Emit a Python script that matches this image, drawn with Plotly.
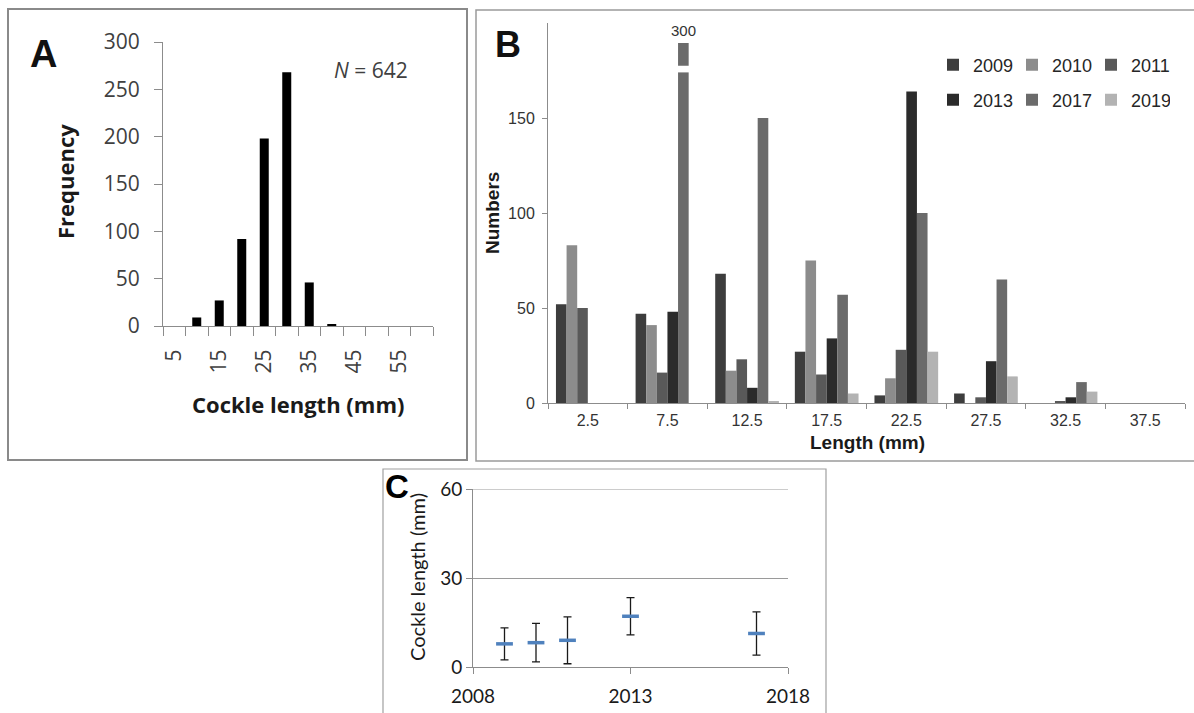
import plotly.graph_objects as go

W, H = 1194, 713
def px(x): return x / W
def py(y): return 1 - y / H

# ---------------- data ----------------
# Panel A: length-frequency of cockles
a_lengths = [5, 10, 15, 20, 25, 30, 35, 40, 45, 50, 55, 60]
a_freq = [0, 9, 27, 92, 198, 268, 46, 2, 0, 0, 0, 0]
a_ticklabels = [5, 15, 25, 35, 45, 55]
a_n = 642

# Panel B: numbers per length class and year
b_bins = ["2.5", "7.5", "12.5", "17.5", "22.5", "27.5", "32.5", "37.5"]
b_years = ["2009", "2010", "2011", "2013", "2017", "2019"]
b_2009 = [52, 47, 68, 27, 4, 5, 0, 0]
b_2010 = [83, 41, 17, 75, 13, 0, 0, 0]
b_2011 = [50, 16, 23, 15, 28, 3, 1, 0]
b_2013 = [0, 48, 8, 34, 164, 22, 3, 0]
b_2017 = [0, 300, 150, 57, 100, 65, 11, 0]
b_2019 = [0, 0, 1, 5, 27, 14, 6, 0]
b_series = [b_2009, b_2010, b_2011, b_2013, b_2017, b_2019]
b_colors = ["#3d3d3d", "#8c8c8c", "#595959", "#2b2b2b", "#6b6b6b", "#b3b3b3"]
B_CAP = 189.5          # visual cap for the broken bar
B_BREAK = (174, 177.5)  # white break drawn across capped bar

# Panel C: mean cockle length +/- SD
c_years = [2009, 2010, 2011, 2013, 2017]
c_mean = [7.8, 8.2, 9.0, 17.1, 11.3]
c_sd = [5.4, 6.5, 7.9, 6.3, 7.3]
c_yticks = [0, 30, 60]

# ---------------- figure ----------------
fig = go.Figure()

# Panel A
fig.add_trace(go.Bar(x=a_lengths, y=a_freq, width=2, marker_color="#000000",
                     xaxis="x", yaxis="y", showlegend=False))

# Panel B
for name, vals, col in zip(b_years, b_series, b_colors):
    fig.add_trace(go.Bar(x=b_bins, y=[min(v, B_CAP) for v in vals], name=name,
                         marker=dict(color=col, line=dict(width=0)),
                         xaxis="x2", yaxis="y2",
                         legend="legend" if b_years.index(name) < 3 else "legend2"))

# Panel C
fig.add_trace(go.Scatter(x=c_years, y=c_mean, mode="markers",
                         marker=dict(symbol="line-ew", size=12, color="#4f81bd",
                                     line=dict(width=3.5, color="#4f81bd")),
                         error_y=dict(type="data", array=c_sd, visible=True,
                                      color="#1a1a1a", thickness=1.3, width=4),
                         xaxis="x3", yaxis="y3", showlegend=False))

axis_gray = "#8c8c8c"
grid_gray = "#9a9a9a"
fontA = "Open Sans"
fontB = "Liberation Sans"
fontC = "Lato"

a_bounds = [v - 2.5 for v in a_lengths] + [a_lengths[-1] + 2.5]

legend_common = dict(orientation="h", xanchor="left", yanchor="middle",
                     entrywidth=34, entrywidthmode="pixels", itemwidth=30,
                     font=dict(family=fontB, size=18, color="#262626"),
                     bgcolor="rgba(0,0,0,0)", traceorder="normal")

fig.update_layout(
    template="none",
    width=W, height=H, autosize=False, margin=dict(l=0, r=0, t=0, b=0, pad=0),
    paper_bgcolor="white", plot_bgcolor="white",
    barmode="group", bargap=0.2, bargroupgap=0,
    xaxis=dict(domain=[px(163), px(433)], anchor="y", range=[2.5, 62.5], automargin=False,
               tickmode="array", tickvals=a_ticklabels, ticks="", tickangle=-90,
               ticklabelstandoff=14,
               minor=dict(tickmode="array", tickvals=a_bounds, ticks="outside",
                          ticklen=9, tickcolor=axis_gray, showgrid=False),
               showline=True, linecolor=axis_gray, showgrid=False, zeroline=False,
               tickfont=dict(family=fontA, size=21, color="#404040")),
    yaxis=dict(domain=[py(326), py(42)], anchor="x", range=[0, 300], dtick=50, automargin=False,
               ticks="outside", ticklen=8, tickcolor=axis_gray, ticklabelstandoff=10,
               showline=True, linecolor=axis_gray, showgrid=False, zeroline=False,
               tickfont=dict(family=fontA, size=21, color="#404040")),
    xaxis2=dict(domain=[px(548), px(1185)], anchor="y2", type="category", automargin=False,
                tickson="boundaries", ticks="outside", ticklen=5, tickcolor=axis_gray,
                showline=True, linecolor=axis_gray, showgrid=False, ticklabelstandoff=3,
                tickfont=dict(family=fontB, size=16, color="#333333")),
    yaxis2=dict(domain=[py(403), py(23)], anchor="x2", range=[0, 200], automargin=False,
                tickvals=[0, 50, 100, 150], ticks="outside", ticklen=5,
                tickcolor=axis_gray, showline=True, linecolor=axis_gray,
                showgrid=False, zeroline=False, ticklabelstandoff=4,
                tickfont=dict(family=fontB, size=16, color="#333333")),
    xaxis3=dict(domain=[px(473), px(788)], anchor="y3", range=[2008, 2018], automargin=False,
                tickvals=[2008, 2013, 2018], ticks="outside", ticklen=6,
                tickcolor=axis_gray, showline=True, linecolor=axis_gray,
                showgrid=False, zeroline=False, ticklabelstandoff=6,
                tickfont=dict(family=fontC, size=19, color="#1a1a1a")),
    yaxis3=dict(domain=[py(667), py(489)], anchor="x3", range=[0, 60], automargin=False,
                tickvals=c_yticks, ticks="outside", ticklen=6,
                tickcolor=axis_gray, showline=True, linecolor=axis_gray,
                showgrid=True, gridcolor=grid_gray, zeroline=False,
                tickfont=dict(family=fontC, size=19, color="#1a1a1a")),
    legend=dict(x=px(933), y=py(65), **legend_common),
    legend2=dict(x=px(933), y=py(100), **legend_common),
)

# broken bar marker (white gap) on the capped bar
i_bin = next(i for i, s in enumerate(b_2017) if s > B_CAP)
i_ser = b_years.index("2017")
n_ser = len(b_years)
bw = (1 - 0.2) / n_ser
xc = i_bin - 0.4 + (i_ser + 0.5) * bw
shapes = [
    dict(type="rect", xref="x2", yref="y2", x0=xc - bw * 0.8, x1=xc + bw * 0.8,
         y0=B_BREAK[0], y1=B_BREAK[1], fillcolor="white", line=dict(width=0), layer="above"),
    # top gridline of panel C (plotly skips grid at the range edge)
    dict(type="line", xref="x3 domain", yref="y3", x0=0, x1=1, y0=c_yticks[-1], y1=c_yticks[-1],
         line=dict(color=grid_gray, width=1), layer="below"),
    # panel frames
    dict(type="rect", xref="paper", yref="paper", x0=px(8), x1=px(467), y0=py(460), y1=py(9),
         line=dict(color="#8a8a8a", width=2), layer="below"),
    dict(type="rect", xref="paper", yref="paper", x0=px(476), x1=px(1200), y0=py(461), y1=py(10),
         line=dict(color="#9a9a9a", width=1.5), layer="below"),
    dict(type="rect", xref="paper", yref="paper", x0=px(383), x1=px(826), y0=py(720), y1=py(469),
         line=dict(color="#a0a0a0", width=1.2), layer="below"),
]
fig.update_layout(shapes=shapes)

ann = [
    # Panel A
    dict(text="<b>A</b>", x=px(43), y=py(54), font=dict(family="Liberation Sans", size=38, color="#111111")),
    dict(text=f"<i>N</i> = {a_n}", x=px(371), y=py(70), font=dict(family=fontA, size=21, color="#404040")),
    dict(text="<b>Frequency</b>", x=px(65), y=py(182), textangle=-90, font=dict(family=fontA, size=22, color="#1a1a1a")),
    dict(text="<b>Cockle length (mm)</b>", x=px(298), y=py(404), font=dict(family=fontA, size=22, color="#1a1a1a")),
    # Panel B
    dict(text="<b>B</b>", x=px(508), y=py(44), font=dict(family="Liberation Sans", size=36, color="#111111")),
    dict(text=f"{max(b_2017)}", xref="x2", yref="y2", x=xc, y=B_CAP, yanchor="bottom", yshift=2,
         font=dict(family="Liberation Sans", size=15, color="#333333")),
    dict(text="<b>Numbers</b>", x=px(492), y=py(213), textangle=-90, font=dict(family=fontB, size=19, color="#1a1a1a")),
    dict(text="<b>Length (mm)</b>", x=px(867), y=py(443), font=dict(family=fontB, size=19, color="#1a1a1a")),
    # Panel C
    dict(text="<b>C</b>", x=px(397), y=py(487), font=dict(family="Liberation Sans", size=33, color="#000000")),
    dict(text="Cockle length (mm)", x=px(417), y=py(577), textangle=-90, font=dict(family=fontC, size=20, color="#1a1a1a")),
]
for a in ann:
    a.setdefault("xref", "paper")
    a.setdefault("yref", "paper")
    a.setdefault("xanchor", "center")
    a.setdefault("yanchor", "middle")
    a.setdefault("showarrow", False)
fig.update_layout(annotations=ann)

fig.write_html("out.html", config={"displayModeBar": False},
               post_script="document.body.style.margin='0';document.body.style.padding='0';")
